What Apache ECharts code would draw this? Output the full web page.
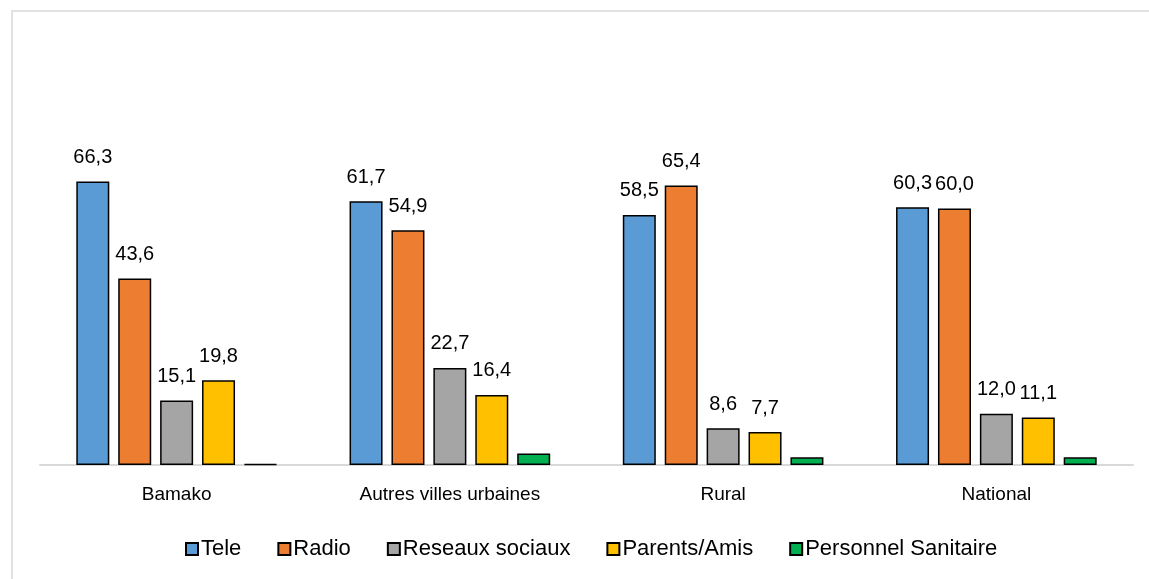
<!DOCTYPE html>
<html>
<head>
<meta charset="utf-8">
<script src="https://cdn.jsdelivr.net/npm/echarts@6/dist/echarts.min.js"></script>
<style>
html,body{margin:0;padding:0;background:#fff;}
#c{width:1149px;height:579px;}
</style>
</head>
<body>
<div id="c"></div>
<script>
const categories = ['Bamako', 'Autres villes urbaines', 'Rural', 'National'];
const seriesNames = ['Tele', 'Radio', 'Reseaux sociaux', 'Parents/Amis', 'Personnel Sanitaire'];
const tele = [66.3, 61.7, 58.5, 60.3];
const radio = [43.6, 54.9, 65.4, 60.0];
const reseaux = [15.1, 22.7, 8.6, 12.0];
const parents = [19.8, 16.4, 7.7, 11.1];
const personnel = [0.2, 2.7, 1.8, 1.8];
const colors = ['#5B9BD5', '#ED7D31', '#A5A5A5', '#FFC000', '#00B050'];
const showLabels = [true, true, true, true, false];

const FONT = '"Liberation Sans", Arial, sans-serif';
const allData = [tele, radio, reseaux, parents, personnel];

const chart = echarts.init(document.getElementById('c'), null, {renderer: 'canvas'});
chart.setOption({
  backgroundColor: '#ffffff',
  animation: false,
  graphic: [{
    type: 'rect', left: 9.5, top: 8.5, silent: true,
    shape: {x: 0, y: 0, width: 1160, height: 600},
    style: {fill: 'none', stroke: '#d9d9d9', lineWidth: 1.5}
  }],
  grid: {left: 40, right: 16, top: 123, bottom: 114, containLabel: false},
  legend: {
    bottom: 14, left: 180,
    icon: 'rect',
    itemWidth: 12, itemHeight: 12, itemGap: 36,
    textStyle: {fontFamily: FONT, fontSize: 22, color: '#000', padding: [0, 0, 0, -2]},
    data: seriesNames
  },
  xAxis: {
    type: 'category', data: categories,
    axisLine: {lineStyle: {color: '#d9d9d9', width: 2}},
    axisTick: {show: false},
    axisLabel: {fontFamily: FONT, fontSize: 19, color: '#000', margin: 20}
  },
  yAxis: {type: 'value', min: 0, max: 80, show: false, splitLine: {show: false}},
  series: seriesNames.map((n, i) => ({
    name: n, type: 'bar', data: allData[i],
    barWidth: 33, barGap: '27%',
    itemStyle: {color: colors[i], borderColor: '#000', borderWidth: 1.5},
    label: {
      show: showLabels[i], position: 'top', distance: 14,
      fontFamily: FONT, fontSize: 20, color: '#000',
      formatter: p => p.value.toFixed(1).replace('.', ',')
    }
  }))
});
</script>
</body>
</html>
